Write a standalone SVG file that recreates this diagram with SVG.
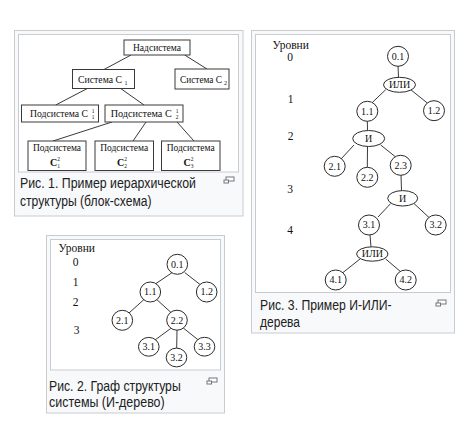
<svg xmlns="http://www.w3.org/2000/svg" width="464" height="422" viewBox="0 0 464 422">
<style>
.frame{fill:#f8f9fa;stroke:#c8ccd1;stroke-width:1}
.img{fill:#fff;stroke:#c8ccd1;stroke-width:1}
.cap{font-family:"Liberation Sans",Arial,sans-serif;font-size:14px;fill:#202122}
.box{fill:#fff;stroke:#3a3a3a;stroke-width:1}
.nd{fill:#fff;stroke:#2a2a2a;stroke-width:1}
.t{font-family:"Liberation Serif","Times New Roman",serif;font-size:10px;fill:#111}
.m{text-anchor:middle}
.idx{font-family:"Liberation Serif","Times New Roman",serif;font-size:5.5px;fill:#111;text-anchor:middle}
.lv{font-family:"Liberation Serif","Times New Roman",serif;font-size:11.5px;fill:#111;text-anchor:middle}
.edges line{stroke:#3a3a3a;stroke-width:1}
</style>
<defs>
<g id="mag"><rect x="2.5" y="0.5" width="8" height="4" fill="#fff" stroke="#72777d"/><rect x="0.5" y="3.5" width="4.5" height="3" fill="#fff" stroke="#72777d"/></g>
</defs>

<!-- Figure 1 frame -->
<g id="fig1-frame">
<rect class="frame" x="14.5" y="30.5" width="228.5" height="185.5"/>
<rect class="img" x="18.5" y="34.5" width="220" height="137.5"/>
</g>
<g id="fig1-edges" class="edges">
<line x1="131" y1="55" x2="104" y2="69.5"/>
<line x1="184.7" y1="55" x2="207" y2="69"/>
<line x1="87.3" y1="88.5" x2="55.7" y2="105"/>
<line x1="120.7" y1="88.5" x2="144" y2="105"/>
<line x1="112" y1="122" x2="53" y2="141"/>
<line x1="146" y1="122" x2="133" y2="141"/>
<line x1="177" y1="122" x2="194" y2="141"/>
</g>
<g id="n-nadsistema"><rect class="box" x="124" y="40" width="66" height="15"/><text class="t m" x="157" y="50.8" textLength="48" lengthAdjust="spacingAndGlyphs">Надсистема</text></g>
<g id="n-sistema-c1"><rect class="box" x="72.5" y="69.5" width="62" height="19"/><text class="t" x="78" y="82.5" textLength="44" lengthAdjust="spacingAndGlyphs">Система С</text><text class="idx" x="126" y="84.5" style="font-size:6px">1</text></g>
<g id="n-sistema-c2"><rect class="box" x="175" y="69" width="54" height="20"/><text class="t" x="180" y="82.5" textLength="42" lengthAdjust="spacingAndGlyphs">Система С</text><text class="idx" x="225.5" y="84.5" style="font-size:6px">2</text></g>
<g id="n-podsistema-c11"><rect class="box" x="21.5" y="105" width="77" height="17"/><text class="t" x="30" y="117.3" textLength="58" lengthAdjust="spacingAndGlyphs">Подсистема С</text><text class="idx" x="93" y="113">1</text><text class="idx" x="93" y="119">1</text></g>
<g id="n-podsistema-c21"><rect class="box" x="105" y="105" width="78" height="17"/><text class="t" x="110.7" y="117.3" textLength="61" lengthAdjust="spacingAndGlyphs">Подсистема С</text><text class="idx" x="177" y="113">1</text><text class="idx" x="177" y="119">2</text></g>
<g id="n-podsistema-c12"><rect class="box" x="28" y="141" width="58" height="29.5"/><text class="t m" x="57" y="150.5" textLength="48" lengthAdjust="spacingAndGlyphs">Подсистема</text><text class="t m" x="53.5" y="165.5" style="font-weight:bold">С</text><text class="idx" x="58.5" y="160.5">2</text><text class="idx" x="58.5" y="167.5">1</text></g>
<g id="n-podsistema-c22"><rect class="box" x="95" y="141" width="58.5" height="29.5"/><text class="t m" x="124.2" y="150.5" textLength="48" lengthAdjust="spacingAndGlyphs">Подсистема</text><text class="t m" x="120.7" y="165.5" style="font-weight:bold">С</text><text class="idx" x="125.7" y="160.5">2</text><text class="idx" x="125.7" y="167.5">2</text></g>
<g id="n-podsistema-c32"><rect class="box" x="161.5" y="141" width="58.5" height="29.5"/><text class="t m" x="190.7" y="150.5" textLength="48" lengthAdjust="spacingAndGlyphs">Подсистема</text><text class="t m" x="187.2" y="165.5" style="font-weight:bold">С</text><text class="idx" x="192.2" y="160.5">2</text><text class="idx" x="192.2" y="167.5">3</text></g>
<g id="fig1-caption">
<text class="cap" x="20" y="188" textLength="176" lengthAdjust="spacingAndGlyphs">Рис. 1. Пример иерархической</text>
<text class="cap" x="20" y="206" textLength="131.5" lengthAdjust="spacingAndGlyphs">структуры (блок-схема)</text>
<use href="#mag" x="223.5" y="176.5"/>
</g>

<!-- Figure 3 -->
<g id="fig3-frame">
<rect class="frame" x="251.5" y="30.5" width="203" height="302.5"/>
<rect class="img" x="255.5" y="34.5" width="195" height="258"/>
</g>
<g id="fig3-levels">
<text class="lv" x="290.7" y="48.5">Уровни</text>
<text class="lv" x="290" y="61.3">0</text>
<text class="lv" x="290.7" y="102.7">1</text>
<text class="lv" x="290.5" y="140.3">2</text>
<text class="lv" x="290" y="193.3">3</text>
<text class="lv" x="290" y="234">4</text>
</g>
<g id="fig3-edges" class="edges">
<line x1="398" y1="66" x2="398.5" y2="77.3"/>
<line x1="385.7" y1="89.7" x2="372.3" y2="102.5"/>
<line x1="410.7" y1="89.7" x2="427.3" y2="103"/>
<line x1="367.3" y1="121" x2="367.5" y2="130.5"/>
<line x1="354" y1="145" x2="341" y2="159"/>
<line x1="367.5" y1="146.5" x2="367.3" y2="167.3"/>
<line x1="380.7" y1="145" x2="395.7" y2="157"/>
<line x1="401" y1="175" x2="401.5" y2="190.5"/>
<line x1="390.7" y1="203.5" x2="378" y2="217"/>
<line x1="414" y1="203.5" x2="429" y2="217.5"/>
<line x1="370" y1="235" x2="371" y2="247"/>
<line x1="360" y1="259" x2="343" y2="272.5"/>
<line x1="385.7" y1="259" x2="401" y2="272"/>
</g>
<g id="t3-0-1"><ellipse class="nd" cx="398" cy="56.3" rx="10.5" ry="10"/><text class="t m" x="398" y="59.6">0.1</text></g>
<g id="t3-or-1"><ellipse class="nd" cx="399.5" cy="84.8" rx="16" ry="7.5"/><text class="t m" x="399.5" y="88.1">ИЛИ</text></g>
<g id="t3-1-1"><ellipse class="nd" cx="367.3" cy="111.3" rx="10.5" ry="10"/><text class="t m" x="367.3" y="114.6">1.1</text></g>
<g id="t3-1-2"><ellipse class="nd" cx="434" cy="110.7" rx="10.5" ry="10"/><text class="t m" x="434" y="114">1.2</text></g>
<g id="t3-and-1"><ellipse class="nd" cx="368.7" cy="138.5" rx="16" ry="8"/><text class="t m" x="368.7" y="141.8">И</text></g>
<g id="t3-2-1"><ellipse class="nd" cx="334.7" cy="166.3" rx="10.5" ry="10"/><text class="t m" x="334.7" y="169.6">2.1</text></g>
<g id="t3-2-2"><ellipse class="nd" cx="367.3" cy="177.3" rx="10.5" ry="10"/><text class="t m" x="367.3" y="180.6">2.2</text></g>
<g id="t3-2-3"><ellipse class="nd" cx="400.7" cy="165.3" rx="10.5" ry="10"/><text class="t m" x="400.7" y="168.6">2.3</text></g>
<g id="t3-and-2"><ellipse class="nd" cx="402.7" cy="198.3" rx="15" ry="7.7"/><text class="t m" x="402.7" y="201.6">И</text></g>
<g id="t3-3-1"><ellipse class="nd" cx="369" cy="225" rx="10.5" ry="10"/><text class="t m" x="369" y="228.3">3.1</text></g>
<g id="t3-3-2"><ellipse class="nd" cx="435.7" cy="225" rx="10.5" ry="10"/><text class="t m" x="435.7" y="228.3">3.2</text></g>
<g id="t3-or-2"><ellipse class="nd" cx="372.3" cy="254" rx="15.7" ry="7.2"/><text class="t m" x="372.3" y="257.3">ИЛИ</text></g>
<g id="t3-4-1"><ellipse class="nd" cx="335.7" cy="280" rx="10.5" ry="10"/><text class="t m" x="335.7" y="283.3">4.1</text></g>
<g id="t3-4-2"><ellipse class="nd" cx="405.7" cy="280" rx="10.5" ry="10"/><text class="t m" x="405.7" y="283.3">4.2</text></g>
<g id="fig3-caption">
<text class="cap" x="260" y="310" textLength="131.7" lengthAdjust="spacingAndGlyphs">Рис. 3. Пример И-ИЛИ-</text>
<text class="cap" x="260" y="327" textLength="40" lengthAdjust="spacingAndGlyphs">дерева</text>
<use href="#mag" x="435.5" y="299.5"/>
</g>

<!-- Figure 2 -->
<g id="fig2-frame">
<rect class="frame" x="46.5" y="235.5" width="178" height="177.5"/>
<rect class="img" x="50.5" y="239.5" width="170" height="130.5"/>
</g>
<g id="fig2-levels">
<text class="lv" x="76.8" y="252">Уровни</text>
<text class="lv" x="75.7" y="266">0</text>
<text class="lv" x="75.7" y="286">1</text>
<text class="lv" x="75.7" y="306">2</text>
<text class="lv" x="76.7" y="334">3</text>
</g>
<g id="fig2-edges" class="edges">
<line x1="172.3" y1="272.5" x2="155.7" y2="283.7"/>
<line x1="184.7" y1="272.5" x2="200.7" y2="285"/>
<line x1="144" y1="299.5" x2="129" y2="313"/>
<line x1="156.7" y1="299.5" x2="171" y2="312.5"/>
<line x1="170.7" y1="328.5" x2="155" y2="340"/>
<line x1="177" y1="330" x2="176.7" y2="348"/>
<line x1="183.3" y1="328" x2="198.3" y2="340"/>
</g>
<g id="t2-0-1"><ellipse class="nd" cx="177.3" cy="264.3" rx="10.3" ry="10"/><text class="t m" x="177.3" y="267.6">0.1</text></g>
<g id="t2-1-1"><ellipse class="nd" cx="150.3" cy="292" rx="10.3" ry="10"/><text class="t m" x="150.3" y="295.3">1.1</text></g>
<g id="t2-1-2"><ellipse class="nd" cx="206.7" cy="292" rx="10.3" ry="10"/><text class="t m" x="206.7" y="295.3">1.2</text></g>
<g id="t2-2-1"><ellipse class="nd" cx="122.3" cy="320.3" rx="10.3" ry="10"/><text class="t m" x="122.3" y="323.6">2.1</text></g>
<g id="t2-2-2"><ellipse class="nd" cx="177" cy="320.2" rx="10.3" ry="10"/><text class="t m" x="177" y="323.5">2.2</text></g>
<g id="t2-3-1"><ellipse class="nd" cx="148.8" cy="346.8" rx="10.3" ry="9.4"/><text class="t m" x="148.8" y="350.1">3.1</text></g>
<g id="t2-3-2"><ellipse class="nd" cx="176.5" cy="357.5" rx="10.3" ry="9.4"/><text class="t m" x="176.5" y="360.8">3.2</text></g>
<g id="t2-3-3"><ellipse class="nd" cx="204.5" cy="346.7" rx="10.3" ry="9.4"/><text class="t m" x="204.5" y="350">3.3</text></g>
<g id="fig2-caption">
<text class="cap" x="49" y="390.5" textLength="131.7" lengthAdjust="spacingAndGlyphs">Рис. 2. Граф структуры</text>
<text class="cap" x="49" y="406.5" textLength="115.7" lengthAdjust="spacingAndGlyphs">системы (И-дерево)</text>
<use href="#mag" x="206.5" y="377.5"/>
</g>
</svg>
